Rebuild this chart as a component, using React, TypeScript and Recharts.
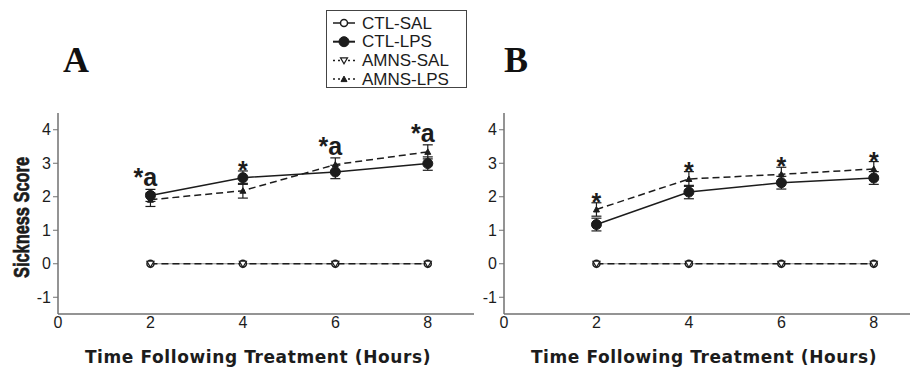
import React from 'react';
import { LineChart, Line, XAxis, YAxis, ErrorBar, LabelList, Legend } from 'recharts';

// ---- data ----
const hours = [2, 4, 6, 8];
const xTicks = [0, 2, 4, 6, 8];
const yTicks = [-1, 0, 1, 2, 3, 4];

const aCtlSal = [0, 0, 0, 0];
const aCtlLps = [2.04, 2.57, 2.74, 2.99];
const aCtlLpsErr = [0.18, 0.2, 0.2, 0.2];
const aAmnsSal = [0, 0, 0, 0];
const aAmnsLps = [1.91, 2.18, 2.96, 3.34];
const aAmnsLpsErr = [0.2, 0.22, 0.2, 0.21];
const aMarks = ['*a', '*', '*a', '*a'];

const bCtlSal = [0, 0, 0, 0];
const bCtlLps = [1.17, 2.14, 2.42, 2.56];
const bCtlLpsErr = [0.19, 0.2, 0.19, 0.19];
const bAmnsSal = [0, 0, 0, 0];
const bAmnsLps = [1.62, 2.53, 2.67, 2.83];
const bAmnsLpsErr = [0.2, 0.22, 0.21, 0.22];
const bMarks = ['*', '*', '*', '*'];

const seriesNames = ['CTL-SAL', 'CTL-LPS', 'AMNS-SAL', 'AMNS-LPS'];
const xTitle = 'Time Following Treatment (Hours)';
const yTitle = 'Sickness Score';

const ink = '#1c1c1c';
const axisCol = '#707070';
const sans = '"Liberation Sans", Arial, sans-serif';
const narrow = '"Liberation Sans Narrow", "Liberation Sans", Arial, sans-serif';

function buildRows(ctlSal: number[], ctlLps: number[], ctlErr: number[], amnsSal: number[], amnsLps: number[], amnsErr: number[], marks: string[]) {
  return hours.map((h, i) => ({
    hour: h,
    ctlSal: ctlSal[i],
    ctlLps: ctlLps[i],
    ctlLpsErr: ctlErr[i],
    amnsSal: amnsSal[i],
    amnsLps: amnsLps[i],
    amnsLpsErr: amnsErr[i],
    top: Math.max(ctlLps[i] + ctlErr[i], amnsLps[i] + amnsErr[i]),
    mark: marks[i],
  }));
}

const rowsA = buildRows(aCtlSal, aCtlLps, aCtlLpsErr, aAmnsSal, aAmnsLps, aAmnsLpsErr, aMarks);
const rowsB = buildRows(bCtlSal, bCtlLps, bCtlLpsErr, bAmnsSal, bAmnsLps, bAmnsLpsErr, bMarks);

// ---- markers ----
const OpenCircle = (p: any) => (p.cx == null ? <g /> : <circle cx={p.cx} cy={p.cy} r={3.5} fill="#fff" stroke={ink} strokeWidth={1.5} />);
const FilledCircle = (p: any) => (p.cx == null ? <g /> : <circle cx={p.cx} cy={p.cy} r={5} fill={ink} stroke={ink} />);
const DownTri = (p: any) =>
  p.cx == null ? <g /> : (
    <path d={`M${p.cx - 3.5},${p.cy - 2.5} L${p.cx + 3.5},${p.cy - 2.5} L${p.cx},${p.cy + 3.5} Z`} fill="#fff" stroke={ink} strokeWidth={1.2} />
  );
const UpTri = (p: any) =>
  p.cx == null ? <g /> : (
    <path d={`M${p.cx - 3},${p.cy + 2.5} L${p.cx + 3},${p.cy + 2.5} L${p.cx},${p.cy - 3} Z`} fill={ink} stroke={ink} strokeWidth={1} />
  );

const renderMark = (props: any) => {
  const { x, y, value } = props;
  if (value == null) return null;
  const s = String(value);
  if (s.includes('a')) {
    return (
      <text x={x - 5} y={y - 3} textAnchor="middle" fontFamily={narrow} fontWeight="bold" fontSize={25} fill={ink}>
        {s}
      </text>
    );
  }
  return (
    <text x={x} y={y + 8} textAnchor="middle" fontFamily={narrow} fontWeight="bold" fontSize={25} fill={ink}>
      {s}
    </text>
  );
};

const renderXLabel = (props: any) => {
  const vb = props.viewBox || {};
  return (
    <text x={vb.x + vb.width / 2 - 8} y={363} textAnchor="middle" fontFamily='"DejaVu Sans", Verdana, sans-serif' fontWeight="bold" fontSize={17} letterSpacing={0.6} fill={ink}>
      {xTitle}
    </text>
  );
};

const renderYLabel = (props: any) => {
  const vb = props.viewBox || {};
  const cx = vb.x + 3;
  const cy = vb.y + vb.height / 2 + 4;
  return (
    <text
      x={cx}
      y={cy}
      transform={`rotate(-90 ${cx} ${cy})`}
      textAnchor="middle"
      dominantBaseline="central"
      fontFamily={sans}
      fontWeight="bold"
      fontSize={22}
      textLength={121}
      lengthAdjust="spacingAndGlyphs"
      fill={ink}
      stroke={ink}
      strokeWidth={0.7}
    >
      {yTitle}
    </text>
  );
};

const legendStyles = [
  { dash: undefined, w: 1.5, Marker: OpenCircle },
  { dash: undefined, w: 2, Marker: FilledCircle },
  { dash: '2 3', w: 1.5, Marker: DownTri },
  { dash: '2 3', w: 1.5, Marker: UpTri },
];

const renderLegend = () => (
  <svg width={141} height={78} style={{ display: 'block' }}>
    <rect x={0.5} y={0.5} width={140} height={77} fill="#fff" stroke="#444" strokeWidth={1} />
    {seriesNames.map((name, i) => {
      const st = legendStyles[i];
      const cy = 13 + i * 18.7;
      const M = st.Marker;
      return (
        <g key={name}>
          <line x1={7} x2={29} y1={cy} y2={cy} stroke={ink} strokeWidth={st.w} strokeDasharray={st.dash} />
          <M cx={18} cy={cy} />
          <text x={36} y={cy} dominantBaseline="central" fontFamily={sans} fontSize={17} fill={ink}>
            {name}
          </text>
        </g>
      );
    })}
  </svg>
);

function Panel({ rows, showYLabel, showLegend }: { rows: any[]; showYLabel: boolean; showLegend: boolean }) {
  return (
    <LineChart width={480} height={369} data={rows} margin={{ top: 113, right: 6, bottom: 25, left: 18 }}>
      <XAxis
        dataKey="hour"
        type="number"
        domain={[0, 9]}
        ticks={xTicks}
        tickLine={false}
        tickSize={0}
        tickMargin={3}
        height={30}
        axisLine={{ stroke: axisCol, strokeWidth: 1.5 }}
        tick={{ fill: ink, fontSize: 16, fontFamily: sans }}
        label={renderXLabel}
        allowDataOverflow
      />
      <YAxis
        type="number"
        domain={[-1.5, 4.5]}
        ticks={yTicks}
        width={40}
        tickSize={5}
        tickMargin={2}
        axisLine={{ stroke: axisCol, strokeWidth: 1.5 }}
        tickLine={{ stroke: axisCol, strokeWidth: 1 }}
        tick={{ fill: ink, fontSize: 16, fontFamily: sans }}
        label={showYLabel ? renderYLabel : undefined}
        allowDataOverflow
      />
      {showLegend && (
        <Legend
          layout="horizontal"
          verticalAlign="middle"
          align="center"
          content={renderLegend}
          wrapperStyle={{ position: 'absolute', left: 326, top: 10, width: 141, height: 78 }}
        />
      )}
      <Line dataKey="ctlSal" name="CTL-SAL" stroke="#8a8a8a" strokeWidth={1.2} dot={OpenCircle} isAnimationActive={false} />
      <Line dataKey="amnsSal" name="AMNS-SAL" stroke={ink} strokeWidth={1.5} strokeDasharray="7 4" dot={DownTri} isAnimationActive={false} />
      <Line dataKey="amnsLps" name="AMNS-LPS" stroke={ink} strokeWidth={1.5} strokeDasharray="7 4" dot={UpTri} isAnimationActive={false}>
        <ErrorBar dataKey="amnsLpsErr" direction="y" width={5} stroke={ink} strokeWidth={1.2} />
      </Line>
      <Line dataKey="ctlLps" name="CTL-LPS" stroke={ink} strokeWidth={1.5} dot={FilledCircle} isAnimationActive={false}>
        <ErrorBar dataKey="ctlLpsErr" direction="y" width={5} stroke={ink} strokeWidth={1.2} />
      </Line>
      <Line dataKey="top" stroke="none" dot={false} activeDot={false} legendType="none" isAnimationActive={false}>
        <LabelList dataKey="mark" content={renderMark} />
      </Line>
    </LineChart>
  );
}

export default function App() {
  return (
    <div style={{ position: 'absolute', left: 0, top: 0, width: 910, height: 369, overflow: 'hidden', background: '#fff' }}>
      <div style={{ position: 'absolute', left: 0, top: 0 }}>
        <Panel rows={rowsA} showYLabel={true} showLegend={true} />
      </div>
      <div style={{ position: 'absolute', left: 446, top: 0 }}>
        <Panel rows={rowsB} showYLabel={false} showLegend={false} />
      </div>
      <svg width={910} height={100} style={{ position: 'absolute', left: 0, top: 0, pointerEvents: 'none' }}>
        <text x={63} y={72} fontFamily='"Liberation Serif", "Times New Roman", serif' fontWeight="bold" fontSize={36} fill="#111">A</text>
        <text x={504} y={72} fontFamily='"Liberation Serif", "Times New Roman", serif' fontWeight="bold" fontSize={36} fill="#111">B</text>
      </svg>
    </div>
  );
}
